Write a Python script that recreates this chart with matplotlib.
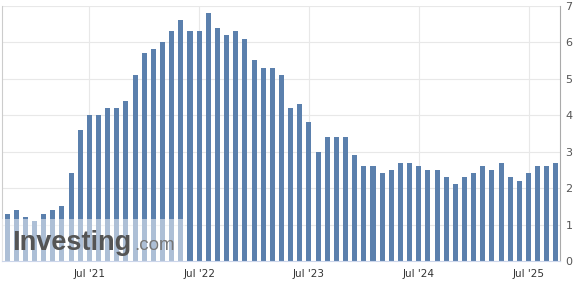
import matplotlib.pyplot as plt
import numpy as np

# monthly values, Oct 2020 .. Oct 2025
months = np.arange(61)
values = [1.3, 1.4, 1.2, 1.1, 1.3, 1.4, 1.5, 2.4, 3.6, 4.0,
          4.0, 4.2, 4.2, 4.4, 5.1, 5.7, 5.8, 6.0, 6.3, 6.6,
          6.3, 6.3, 6.8, 6.4, 6.2, 6.3, 6.1, 5.5, 5.3, 5.3,
          5.1, 4.2, 4.3, 3.8, 3.0, 3.4, 3.4, 3.4, 2.9, 2.6,
          2.6, 2.4, 2.5, 2.7, 2.7, 2.6, 2.5, 2.5, 2.3, 2.1,
          2.3, 2.4, 2.6, 2.5, 2.7, 2.3, 2.2, 2.4, 2.6, 2.6,
          2.7]
tick_pos = [9, 21, 33, 45, 57]
tick_labels = ["Jul '21", "Jul '22", "Jul '23", "Jul '24", "Jul '25"]
y_ticks = [0, 1, 2, 3, 4, 5, 6, 7]

fig = plt.figure(figsize=(5.79, 2.86), dpi=100)
ax = fig.add_axes([2 / 579, 25 / 286, 558 / 579, 255.3 / 286])

ax.bar(months, values, width=0.55, color='#5b80ad', zorder=2)
ax.set_xlim(-0.55, 60.44)
ax.set_ylim(0, 7)

ax.set_xticks(tick_pos)
ax.set_xticklabels(tick_labels, fontsize=7.5, color='#333333')
ax.set_yticks(y_ticks)
ax.yaxis.tick_right()
ax.tick_params(axis='y', length=0, pad=4, labelsize=8, labelcolor='#555555')
ax.tick_params(axis='x', length=0, pad=6)
ax.grid(True, color='#e8e8e8', linewidth=0.8, zorder=0)

ax.spines['top'].set_visible(False)
ax.spines['left'].set_color('#cccccc')
ax.spines['right'].set_color('#aaaaaa')
ax.spines['bottom'].set_color('#ccd6eb')

# watermark
ax.add_patch(plt.Rectangle((0, 0), 183 / 558, 42 / 255.3, transform=ax.transAxes,
                           facecolor='white', alpha=0.5, edgecolor='none', zorder=3))
fig.text(12 / 579, 1 - 250 / 286, 'Investing', fontsize=19.5, fontweight='bold',
         color='#555555', family='Liberation Sans', zorder=4)
fig.text(134 / 579, 1 - 250 / 286, '.com', fontsize=13.5,
         color='#777777', family='Liberation Sans', zorder=4)

fig.savefig('out.png', dpi=100)
